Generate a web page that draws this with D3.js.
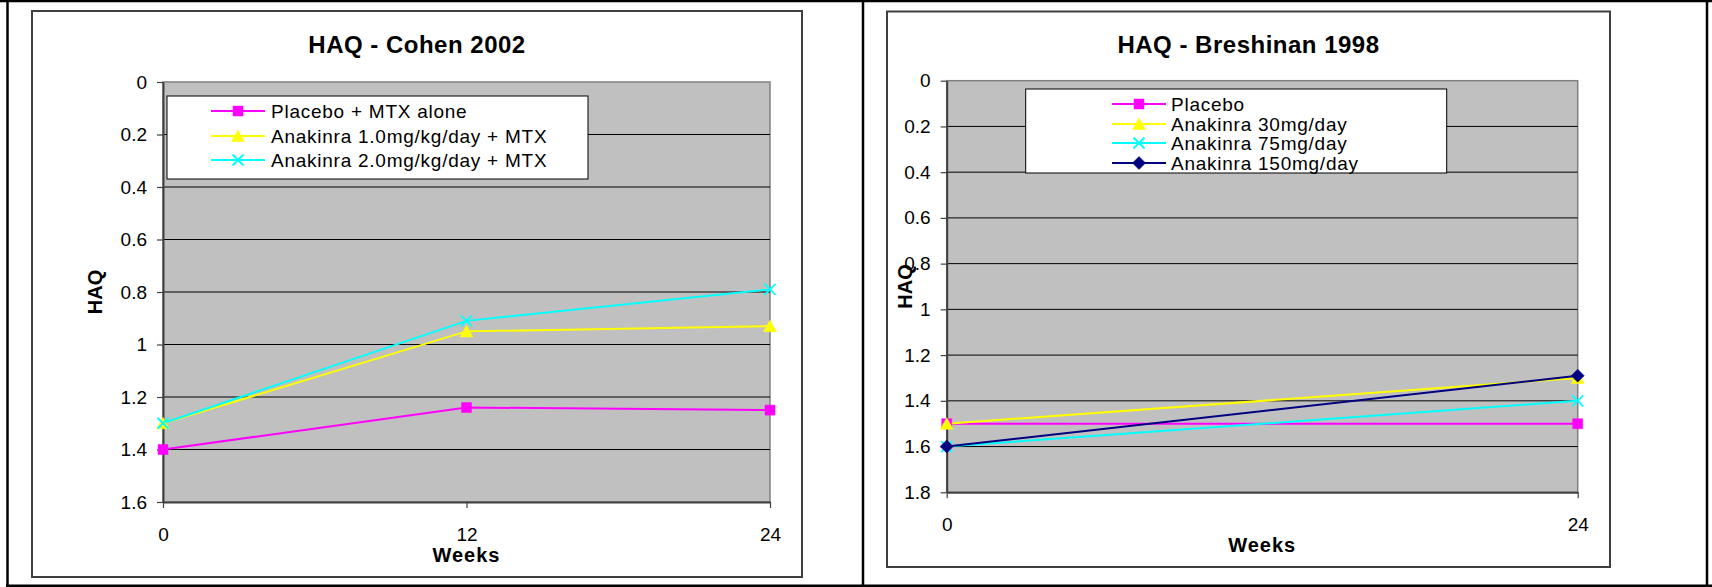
<!DOCTYPE html>
<html>
<head>
<meta charset="utf-8">
<script src="https://cdn.jsdelivr.net/npm/d3@7"></script>
<style>
  html, body { margin: 0; padding: 0; background: #fff; }
  svg { display: block; font-family: "Liberation Sans", Arial, sans-serif; }
</style>
</head>
<body>
<svg id="page" width="1712" height="587"></svg>
<script>
// ---- Cohen 2002 ----
const cohenTitle = "HAQ - Cohen 2002";
const cohenWeeks = ["0", "12", "24"];
const cohenSeriesNames = ["Placebo + MTX alone", "Anakinra 1.0mg/kg/day + MTX", "Anakinra 2.0mg/kg/day + MTX"];
const cohenPlacebo = [1.40, 1.24, 1.25];
const cohenAnakinra1 = [1.30, 0.95, 0.93];
const cohenAnakinra2 = [1.30, 0.91, 0.79];
const cohenHaqTicks = [0, 0.2, 0.4, 0.6, 0.8, 1, 1.2, 1.4, 1.6];

// ---- Breshinan 1998 ----
const bresTitle = "HAQ - Breshinan 1998";
const bresWeeks = ["0", "24"];
const bresSeriesNames = ["Placebo", "Anakinra 30mg/day", "Anakinra 75mg/day", "Anakinra 150mg/day"];
const bresPlacebo = [1.5, 1.5];
const bresAnakinra30 = [1.5, 1.3];
const bresAnakinra75 = [1.6, 1.4];
const bresAnakinra150 = [1.6, 1.29];
const bresHaqTicks = [0, 0.2, 0.4, 0.6, 0.8, 1, 1.2, 1.4, 1.6, 1.8];

const xTitle = "Weeks";
const yTitle = "HAQ";

// series styling (colour + marker shape)
const styleMagenta = { color: "#FF00FF", marker: "square" };
const styleYellow  = { color: "#FFFF00", marker: "triangle" };
const styleCyan    = { color: "#00FFFF", marker: "cross" };
const styleNavy    = { color: "#000080", marker: "diamond" };

const FONT = '"Liberation Sans", Arial, sans-serif';

const markerPaths = {
  square:   "M-5,-5H5V5H-5Z",
  triangle: "M0,-6L6.5,5.5L-6.5,5.5Z",
  diamond:  "M0,-6.5L6.5,0L0,6.5L-6.5,0Z",
  cross:    "M-5.5,-5.5L5.5,5.5M5.5,-5.5L-5.5,5.5"
};

function drawMarker(sel, style) {
  const filled = style.marker !== "cross";
  sel.append("path")
    .attr("d", markerPaths[style.marker])
    .attr("fill", filled ? style.color : "none")
    .attr("stroke", style.color)
    .attr("stroke-width", filled ? 0.5 : 1.8);
}

function drawChart(svg, o) {
  const g = svg.append("g");
  const yMax = d3.max(o.ticks);

  // chart frame
  g.append("rect")
    .attr("x", o.frame.x).attr("y", o.frame.y)
    .attr("width", o.frame.w).attr("height", o.frame.h)
    .attr("fill", "#fff").attr("stroke", "#404040").attr("stroke-width", 2);

  // title
  g.append("text")
    .attr("x", o.frame.x + o.frame.w / 2).attr("y", 52.5)
    .attr("text-anchor", "middle")
    .attr("font-size", 24).attr("font-weight", "bold")
    .attr("letter-spacing", 0.5)
    .text(o.title);

  const x = d3.scalePoint().domain(o.categories).range([o.plot.left, o.plot.right]);
  const y = d3.scaleLinear().domain([0, yMax]).range([o.plot.top, o.plot.bottom]);

  // plot area
  g.append("rect")
    .attr("x", o.plot.left).attr("y", y(0))
    .attr("width", o.plot.right - o.plot.left).attr("height", y(yMax) - y(0))
    .attr("fill", "#C0C0C0").attr("stroke", "#808080").attr("stroke-width", 1.5);

  // horizontal gridlines
  g.append("g").selectAll("line")
    .data(o.ticks.filter(t => t > 0 && t < yMax))
    .join("line")
    .attr("x1", o.plot.left).attr("x2", o.plot.right)
    .attr("y1", d => y(d)).attr("y2", d => y(d))
    .attr("stroke", "#000").attr("stroke-width", 1);

  // y axis
  const ya = g.append("g")
    .attr("transform", `translate(${o.plot.left},0)`)
    .call(d3.axisLeft(y).tickValues(o.ticks).tickFormat(d => String(d))
      .tickSize(6).tickSizeOuter(0).tickPadding(10));
  ya.attr("font-size", 19).attr("font-family", FONT);
  ya.select(".domain").attr("stroke", "#404040").attr("stroke-width", 2);
  ya.selectAll(".tick line").attr("stroke", "#404040").attr("stroke-width", 1.2);
  ya.selectAll(".tick text").attr("fill", "#000");

  // x axis
  const xa = g.append("g")
    .attr("transform", `translate(0,${y(yMax)})`)
    .call(d3.axisBottom(x).tickSize(6).tickSizeOuter(0).tickPadding(19.5));
  xa.attr("font-size", 19).attr("font-family", FONT);
  xa.select(".domain").attr("stroke", "#404040").attr("stroke-width", 2);
  xa.selectAll(".tick line").attr("stroke", "#404040").attr("stroke-width", 1.2);
  xa.selectAll(".tick text").attr("fill", "#000");

  // axis titles
  g.append("text")
    .attr("x", (o.plot.left + o.plot.right) / 2).attr("y", y(yMax) + 60)
    .attr("text-anchor", "middle")
    .attr("font-size", 20).attr("font-weight", "bold").attr("letter-spacing", 1)
    .text(xTitle);
  g.append("text")
    .attr("transform", `translate(${o.haqX},${(y(0) + y(yMax)) / 2}) rotate(-90)`)
    .attr("text-anchor", "middle")
    .attr("font-size", 20).attr("font-weight", "bold")
    .text(yTitle);

  // series lines
  const line = d3.line().x((d, i) => x(o.categories[i])).y(d => y(d));
  o.series.forEach(s => {
    g.append("path")
      .attr("d", line(s.values))
      .attr("fill", "none")
      .attr("stroke", s.style.color)
      .attr("stroke-width", 2);
  });
  // series markers
  o.series.forEach(s => {
    g.append("g").selectAll("g")
      .data(s.values)
      .join("g")
      .attr("transform", (d, i) => `translate(${x(o.categories[i])},${y(d)})`)
      .each(function () { drawMarker(d3.select(this), s.style); });
  });

  // legend
  const L = o.legend;
  const lg = g.append("g");
  lg.append("rect")
    .attr("x", L.x).attr("y", L.y).attr("width", L.w).attr("height", L.h)
    .attr("fill", "#fff").attr("stroke", "#000").attr("stroke-width", 1);
  o.series.forEach((s, i) => {
    const ry = L.rows[i];
    lg.append("line")
      .attr("x1", L.lineX1).attr("x2", L.lineX2)
      .attr("y1", ry).attr("y2", ry)
      .attr("stroke", s.style.color).attr("stroke-width", 2);
    drawMarker(lg.append("g").attr("transform", `translate(${(L.lineX1 + L.lineX2) / 2},${ry})`), s.style);
    lg.append("text")
      .attr("x", L.textX).attr("y", ry).attr("dy", "0.35em")
      .attr("font-size", 19).attr("letter-spacing", 0.75)
      .text(s.name);
  });
}

const svg = d3.select("#page");

drawChart(svg, {
  title: cohenTitle,
  categories: cohenWeeks,
  ticks: cohenHaqTicks,
  series: [
    { name: cohenSeriesNames[0], values: cohenPlacebo, style: styleMagenta },
    { name: cohenSeriesNames[1], values: cohenAnakinra1, style: styleYellow },
    { name: cohenSeriesNames[2], values: cohenAnakinra2, style: styleCyan }
  ],
  frame: { x: 32, y: 11, w: 770, h: 566 },
  plot: { left: 163, right: 770, top: 82, bottom: 502 },
  haqX: 102,
  legend: { x: 167, y: 96, w: 421, h: 83, lineX1: 211, lineX2: 265, textX: 271, rows: [111, 136, 160] }
});

drawChart(svg, {
  title: bresTitle,
  categories: bresWeeks,
  ticks: bresHaqTicks,
  series: [
    { name: bresSeriesNames[0], values: bresPlacebo, style: styleMagenta },
    { name: bresSeriesNames[1], values: bresAnakinra30, style: styleYellow },
    { name: bresSeriesNames[2], values: bresAnakinra75, style: styleCyan },
    { name: bresSeriesNames[3], values: bresAnakinra150, style: styleNavy }
  ],
  frame: { x: 887, y: 11.5, w: 723, h: 555.5 },
  plot: { left: 946.7, right: 1577.7, top: 80.7, bottom: 492.3 },
  haqX: 911.7,
  legend: { x: 1025.7, y: 89, w: 421, h: 84, lineX1: 1112, lineX2: 1166, textX: 1171, rows: [104, 124, 143, 163] }
});

// surrounding table rules
const rules = svg.append("g").attr("stroke", "#000").attr("stroke-width", 2.5);
rules.append("line").attr("x1", 0).attr("x2", 1712).attr("y1", 1).attr("y2", 1);
rules.append("line").attr("x1", 6).attr("x2", 1712).attr("y1", 585.8).attr("y2", 585.8);
rules.append("line").attr("x1", 7.5).attr("x2", 7.5).attr("y1", 0).attr("y2", 587);
rules.append("line").attr("x1", 863).attr("x2", 863).attr("y1", 0).attr("y2", 587);
rules.append("line").attr("x1", 1707).attr("x2", 1707).attr("y1", 0).attr("y2", 587);
</script>
</body>
</html>
